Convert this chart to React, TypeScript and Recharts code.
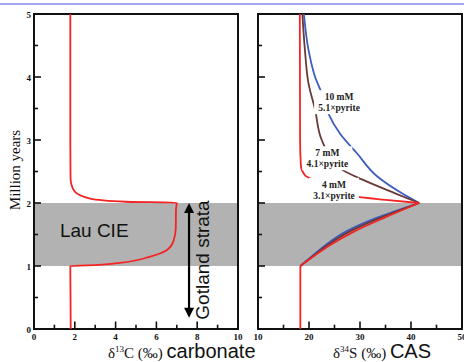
import React from 'react';
import { LineChart, Line, XAxis, YAxis, ReferenceArea, ReferenceDot, ReferenceLine } from 'recharts';

// left panel: d13C carbonate vs age (Myr)
const AGE_C13 = [5, 3, 2.4, 2.3, 2.18, 2.07, 2.02, 2.005, 1.9, 1.6, 1.39, 1.25, 1.15, 1.05, 1.01, 1.0, 0.5, 0];
const D13C = [1.78, 1.78, 1.79, 1.83, 2.0, 2.75, 4.5, 7.0, 6.96, 6.95, 6.83, 6.5, 5.7, 4.2, 2.6, 1.78, 1.79, 1.8];

// right panel: d34S CAS, upper part (after the event)
const AGE_RED_UP = [5, 3, 2.6, 2.44, 2.34, 2.1, 2.05, 2.0];
const S34_RED_UP = [18.2, 18.25, 18.4, 19.2, 21.8, 29.4, 35.0, 41.6];
const AGE_BROWN_UP = [5, 4.43, 3.9, 3.48, 3.0, 2.55, 2.37, 2.15, 2.0];
const S34_BROWN_UP = [18.7, 19.2, 19.9, 21.2, 22.5, 26.1, 30.5, 37.0, 41.6];
const AGE_BLUE_UP = [5, 4.43, 4.0, 3.74, 3.42, 3.1, 2.79, 2.42, 2.15, 2.0];
const S34_BLUE_UP = [19.0, 19.9, 21.2, 22.5, 23.8, 26.1, 29.4, 33.4, 38.3, 41.6];

// right panel: inside the Lau CIE band
const AGE_BAND = [1.0, 1.17, 1.33, 1.55, 1.76, 2.0];
const S34_RED_BAND = [18.3, 21.2, 24.1, 28.9, 34.6, 41.6];
const S34_BROWN_BAND = [18.3, 21.0, 23.6, 28.0, 33.8, 41.6];
const S34_BLUE_BAND = [18.3, 20.8, 23.2, 27.3, 33.1, 41.6];

// right panel: before the event
const AGE_BASE = [0, 1.0];
const S34_BASE = [18.3, 18.3];

const Y_TICKS = [0, 0.5, 1, 1.5, 2, 2.5, 3, 3.5, 4, 4.5, 5];
const C13_TICKS = [0, 1, 2, 3, 4, 5, 6, 7, 8, 9, 10];
const S34_TICKS = [10, 15, 20, 25, 30, 35, 40, 45, 50];

const CURVE_LABELS = [
  { x: 25.9, y: 3.6, lines: ['10 mM', '5.1×pyrite'] },
  { x: 23.6, y: 2.71, lines: ['7 mM', '4.1×pyrite'] },
  { x: 24.9, y: 2.21, lines: ['4 mM', '3.1×pyrite'] },
];

const RED = '#f42424';
const BROWN = '#6b3838';
const BLUE = '#3d5cc0';
const BAND = '#b1b2b1';
const SERIF = '"Liberation Serif", "Times New Roman", serif';
const SANS = '"Liberation Sans", Arial, sans-serif';

const zip = (ys: number[], xs: number[]) => ys.map((y, i) => ({ y, x: xs[i] }));

function YTick(props: any) {
  const { x, y, payload, showLabel } = props;
  const v = payload.value;
  const major = Number.isInteger(v);
  const len = major ? 7 : 4;
  return (
    <g>
      <line x1={x} x2={x + len} y1={y} y2={y} stroke="#111" strokeWidth={1.6} />
      {showLabel && major && (
        <text x={x - 3} y={y + 3.5} textAnchor="end" fontFamily={SERIF} fontWeight="bold" fontSize={9} fill="#111">
          {v}
        </text>
      )}
    </g>
  );
}

function XTick(props: any) {
  const { x, y, payload, step } = props;
  const v = payload.value;
  const major = v % step === 0;
  const len = major ? 7.5 : 4.3;
  return (
    <g>
      <line x1={x} x2={x} y1={y} y2={y - len} stroke="#111" strokeWidth={1.6} />
      {major && (
        <text x={x} y={y + 11} textAnchor="middle" fontFamily={SERIF} fontWeight="bold" fontSize={9} fill="#111">
          {v}
        </text>
      )}
    </g>
  );
}

function PairLabel({ cx, cy, lines }: any) {
  return (
    <g>
      <rect x={cx - 25} y={cy - 12} width={50} height={24} fill="#fff" />
      <text x={cx} y={cy - 2} textAnchor="middle" fontFamily={SERIF} fontWeight="bold" fontSize={9.5} fill="#222">
        {lines[0]}
      </text>
      <text x={cx} y={cy + 9} textAnchor="middle" fontFamily={SERIF} fontWeight="bold" fontSize={9.5} fill="#222">
        {lines[1]}
      </text>
    </g>
  );
}

const line = (data: any[], color: string, key: string) => (
  <Line
    key={key}
    data={data}
    dataKey="x"
    type="monotoneY"
    stroke={color}
    strokeWidth={1.8}
    dot={false}
    isAnimationActive={false}
  />
);

export default function App() {
  return (
    <div style={{ position: 'fixed', left: 0, top: 0, width: 464, height: 362, background: '#fff', overflow: 'hidden' }}>
      <div style={{ position: 'absolute', left: 0, top: 3, width: 464, height: 2, background: '#a3a6f2' }} />

      <div style={{ position: 'absolute', left: 0, top: 0 }}>
        <LineChart width={250} height={362} layout="vertical" margin={{ top: 14, right: 12, bottom: 32, left: 33 }}>
          <XAxis type="number" dataKey="x" domain={[0, 10]} ticks={C13_TICKS} tickSize={0} tickMargin={0}
            height={1} axisLine={false} tick={(p: any) => <XTick {...p} step={2} />} interval={0} />
          <YAxis type="number" dataKey="y" domain={[0, 5]} ticks={Y_TICKS} tickSize={0} tickMargin={0} reversed
            width={1} axisLine={false} tick={(p: any) => <YTick {...p} showLabel />} interval={0} />
          <ReferenceArea x1={0} x2={10} y1={1} y2={2} fill={BAND} fillOpacity={1} stroke="none" />
          {line(zip(AGE_C13, D13C), RED, 'c13')}
          <ReferenceArea x1={0} x2={10} y1={0} y2={5} fill="none" stroke="#111" strokeWidth={2} />
          <ReferenceDot x={1.27} y={1.465} r={0} shape={(p: any) => (
            <text x={p.cx} y={p.cy} fontFamily={SANS} fontSize={19} fill="#111">Lau CIE</text>
          )} />
          <ReferenceLine segment={[{ x: 7.6, y: 0.3 }, { x: 7.6, y: 1.9 }]} stroke="#000" strokeWidth={2.2} />
          <ReferenceDot x={7.6} y={2.0} r={0} shape={(p: any) => (
            <polygon points={`${p.cx},${p.cy} ${p.cx - 5},${p.cy + 10} ${p.cx + 5},${p.cy + 10}`} fill="#000" />
          )} />
          <ReferenceDot x={7.6} y={0.18} r={0} shape={(p: any) => (
            <polygon points={`${p.cx},${p.cy} ${p.cx - 5},${p.cy - 10} ${p.cx + 5},${p.cy - 10}`} fill="#000" />
          )} />
          <ReferenceDot x={8.28} y={1.095} r={0} shape={(p: any) => (
            <text x={p.cx} y={p.cy} textAnchor="middle" dominantBaseline="central" fontFamily={SANS} fontSize={19}
              fill="#111" transform={`rotate(-90 ${p.cx} ${p.cy})`}>Gotland strata</text>
          )} />
        </LineChart>
      </div>

      <div style={{ position: 'absolute', left: 240, top: 0 }}>
        <LineChart width={224} height={362} layout="vertical" margin={{ top: 14, right: 2, bottom: 32, left: 17 }}>
          <XAxis type="number" dataKey="x" domain={[10, 50]} ticks={S34_TICKS} tickSize={0} tickMargin={0}
            height={1} axisLine={false} tick={(p: any) => <XTick {...p} step={10} />} interval={0} />
          <YAxis type="number" dataKey="y" domain={[0, 5]} ticks={Y_TICKS} tickSize={0} tickMargin={0} reversed
            width={1} axisLine={false} tick={(p: any) => <YTick {...p} showLabel={false} />} interval={0} />
          <ReferenceArea x1={10} x2={50} y1={1} y2={2} fill={BAND} fillOpacity={1} stroke="none" />
          {line(zip(AGE_BAND, S34_BLUE_BAND), BLUE, 'bb')}
          {line(zip(AGE_BAND, S34_BROWN_BAND), BROWN, 'brb')}
          {line(zip(AGE_BAND, S34_RED_BAND), RED, 'rb')}
          {line(zip(AGE_BLUE_UP, S34_BLUE_UP), BLUE, 'bu')}
          {line(zip(AGE_BROWN_UP, S34_BROWN_UP), BROWN, 'bru')}
          {line(zip(AGE_RED_UP, S34_RED_UP), RED, 'ru')}
          {line(zip(AGE_BASE, S34_BASE), RED, 'base')}
          {CURVE_LABELS.map((l, i) => (
            <ReferenceDot key={i} x={l.x} y={l.y} r={0} shape={(p: any) => <PairLabel cx={p.cx} cy={p.cy} lines={l.lines} />} />
          ))}
          <ReferenceArea x1={10} x2={50} y1={0} y2={5} fill="none" stroke="#111" strokeWidth={2} />
        </LineChart>
      </div>

      <div style={{ position: 'absolute', left: 15, top: 170, transform: 'translate(-50%, -50%) rotate(-90deg)',
        fontFamily: SERIF, fontSize: 15, whiteSpace: 'nowrap', color: '#111' }}>
        Million years
      </div>

      <div style={{ position: 'absolute', left: 108, top: 339, whiteSpace: 'nowrap', color: '#111', lineHeight: '20px' }}>
        <span style={{ fontFamily: SERIF, fontSize: 15 }}>δ<sup style={{ fontSize: 9 }}>13</sup>C (‰) </span>
        <span style={{ fontFamily: SANS, fontSize: 20 }}>carbonate</span>
      </div>
      <div style={{ position: 'absolute', left: 333, top: 339, whiteSpace: 'nowrap', color: '#111', lineHeight: '20px' }}>
        <span style={{ fontFamily: SERIF, fontSize: 15 }}>δ<sup style={{ fontSize: 9 }}>34</sup>S (‰) </span>
        <span style={{ fontFamily: SANS, fontSize: 20 }}>CAS</span>
      </div>
    </div>
  );
}
